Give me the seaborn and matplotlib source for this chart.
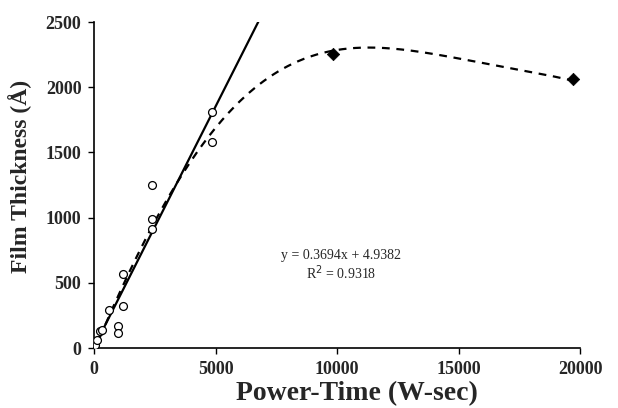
import numpy as np
import pandas as pd
import matplotlib
matplotlib.use("Agg")
import matplotlib.pyplot as plt
import seaborn as sns

# measured data (open circles)
meas_x = [30, 120, 240, 320, 640, 1000, 1000, 1200, 1200, 2400, 2400, 2400, 4850, 4850]
meas_y = [20, 60, 130, 140, 290, 170, 115, 320, 570, 1250, 990, 910, 1810, 1580]
# high-dose points (filled diamonds)
high_x = [9850, 19700]
high_y = [2255, 2060]
# linear fit y = 0.3694x + 4.9382
slope = 0.3694
intercept = 4.9382
fit_x = [0, 6760]
# trend curve samples
trend_x = [0, 1000, 2000, 3000, 4000, 4800, 5500, 6200, 7000, 8000, 9000,
           10000, 11000, 12000, 13000, 14000, 15000, 16000, 17000, 18000, 19700]
trend_y = [0, 380, 760, 1120, 1450, 1690, 1830, 1930, 2030, 2140, 2220,
           2270, 2300, 2310, 2300, 2270, 2230, 2180, 2140, 2100, 2060]

xticks = [0, 5000, 10000, 15000, 20000]
yticks = [0, 500, 1000, 1500, 2000, 2500]

sns.set_theme(style="ticks")
plt.rcParams['font.family'] = ['Liberation Serif', 'DejaVu Serif']

fig = plt.figure(figsize=(6.18, 4.08), dpi=100)
ax = fig.add_axes([0.152, 0.147, 0.787, 0.799])

# dashed trend curve (smooth polynomial through read samples)
coef = np.polyfit(trend_x, trend_y, 5)
cx = np.linspace(0, trend_x[-1], 300)
curve = pd.DataFrame({"x": cx, "y": np.polyval(coef, cx)})
sns.lineplot(data=curve, x="x", y="y", ax=ax, color="black", lw=1.6,
             linestyle=(0, (3.5, 3)))

# solid linear fit
lin = pd.DataFrame({"x": fit_x, "y": [slope * v + intercept for v in fit_x]})
sns.lineplot(data=lin, x="x", y="y", ax=ax, color="black", lw=1.6)

sns.scatterplot(x=meas_x, y=meas_y, ax=ax, marker="o", s=32,
                facecolor="white", edgecolor="black", linewidth=0.9, zorder=5)
sns.scatterplot(x=high_x, y=high_y, ax=ax, marker="D", s=40,
                color="black", edgecolor="black", zorder=5)

ax.set_xlim(0, 20000)
ax.set_ylim(0, 2500)
ax.set_xticks(xticks)
ax.set_yticks(yticks)
for lab in ax.get_xticklabels() + ax.get_yticklabels():
    lab.set_fontweight("bold")
    lab.set_fontsize(13)
ax.tick_params(axis="both", length=4, width=1, color="black", pad=5)
ax.set_xlabel("Power-Time (W-sec)", fontsize=20, fontweight="bold")
ax.set_ylabel("Film Thickness (Å)", fontsize=17, fontweight="bold")
ax.xaxis.set_label_coords(0.541, -0.10)
ax.yaxis.set_label_coords(-0.128, 0.525)
for s in ["left", "bottom"]:
    ax.spines[s].set_color("black")
    ax.spines[s].set_linewidth(1.2)
sns.despine(ax=ax)

ax.text(10150, 710, "y = 0.3694x + 4.9382", ha="center", va="center", fontsize=10)
ax.text(10150, 575, "R$^2$ = 0.9318", ha="center", va="center", fontsize=10)

fig.savefig("out.png", dpi=100)
